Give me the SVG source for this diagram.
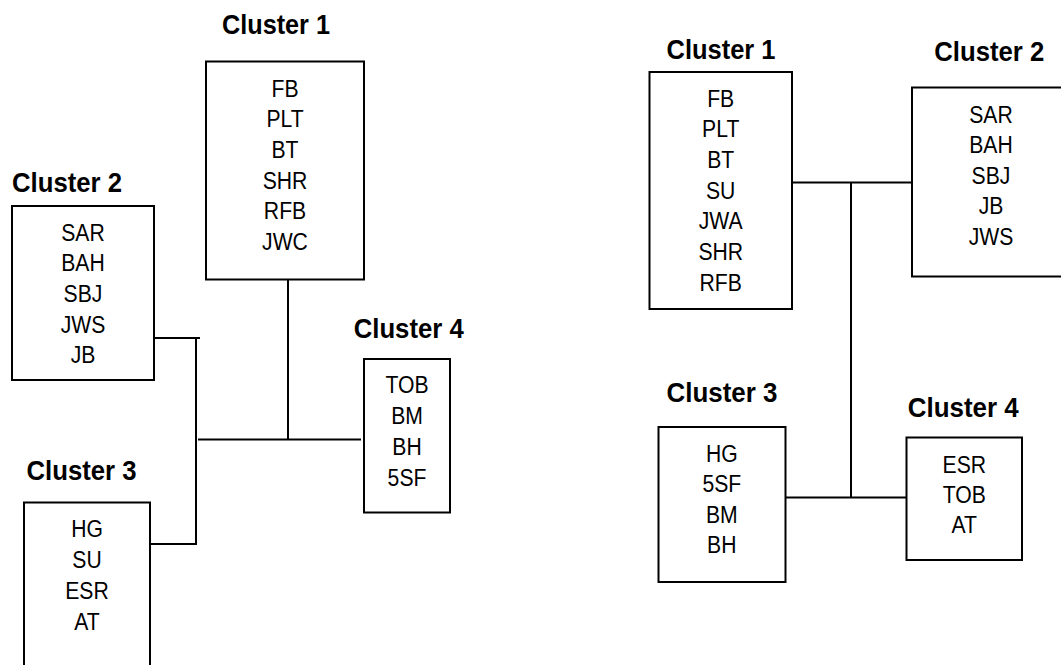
<svg xmlns="http://www.w3.org/2000/svg" width="1061" height="665" viewBox="0 0 1061 665">
  <style>
    .box { fill: #ffffff; stroke: #000000; stroke-width: 2; }
    .wire { fill: none; stroke: #000000; stroke-width: 2; }
    .title { font-family: "Liberation Sans", Arial, sans-serif; font-weight: bold; font-size: 28.5px; text-anchor: middle; fill: #000000; }
    .item { font-family: "Liberation Sans", Arial, sans-serif; font-size: 23.5px; text-anchor: middle; fill: #000000; }
  </style>
  <rect width="1061" height="665" fill="#ffffff"/>

  <!-- connectors -->
  <g id="connectors">
    <!-- left tree -->
    <path class="wire" d="M154 338 H200"/>
    <path class="wire" d="M196 337 V544 H150"/>
    <path class="wire" d="M198 439.5 H361"/>
    <path class="wire" d="M288 279 V439.5"/>
    <!-- right tree -->
    <path class="wire" d="M792 182.5 H912"/>
    <path class="wire" d="M851 182.5 V497.5"/>
    <path class="wire" d="M785 497.5 H906"/>
  </g>

  <!-- left tree nodes -->
  <g id="left-cluster-1">
    <text class="title" x="276" y="34" textLength="108" lengthAdjust="spacingAndGlyphs">Cluster 1</text>
    <rect class="box" x="206" y="61.5" width="158" height="218"/>
    <g class="item" transform="translate(285 0) scale(0.9 1)">
      <text x="0" y="96.7">FB</text>
      <text x="0" y="127.3">PLT</text>
      <text x="0" y="158">BT</text>
      <text x="0" y="188.7">SHR</text>
      <text x="0" y="219.3">RFB</text>
      <text x="0" y="250">JWC</text>
    </g>
  </g>
  <g id="left-cluster-2">
    <text class="title" x="67" y="191.7" textLength="110" lengthAdjust="spacingAndGlyphs">Cluster 2</text>
    <rect class="box" x="12" y="206" width="142" height="174"/>
    <g class="item" transform="translate(83 0) scale(0.9 1)">
      <text x="0" y="240.7">SAR</text>
      <text x="0" y="271.3">BAH</text>
      <text x="0" y="302">SBJ</text>
      <text x="0" y="332.7">JWS</text>
      <text x="0" y="363.3">JB</text>
    </g>
  </g>
  <g id="left-cluster-3">
    <text class="title" x="81.5" y="480" textLength="110" lengthAdjust="spacingAndGlyphs">Cluster 3</text>
    <rect class="box" x="24" y="502.5" width="126" height="180"/>
    <g class="item" transform="translate(87 0) scale(0.9 1)">
      <text x="0" y="537.3">HG</text>
      <text x="0" y="568.3">SU</text>
      <text x="0" y="599.3">ESR</text>
      <text x="0" y="630">AT</text>
    </g>
  </g>
  <g id="left-cluster-4">
    <text class="title" x="408.7" y="338.3" textLength="110" lengthAdjust="spacingAndGlyphs">Cluster 4</text>
    <rect class="box" x="364" y="359" width="86" height="153.5"/>
    <g class="item" transform="translate(407 0) scale(0.9 1)">
      <text x="0" y="393.3">TOB</text>
      <text x="0" y="424">BM</text>
      <text x="0" y="455">BH</text>
      <text x="0" y="486">5SF</text>
    </g>
  </g>

  <!-- right tree nodes -->
  <g id="right-cluster-1">
    <text class="title" x="721" y="59.3" textLength="109" lengthAdjust="spacingAndGlyphs">Cluster 1</text>
    <rect class="box" x="649.5" y="72" width="142.5" height="237"/>
    <g class="item" transform="translate(720.7 0) scale(0.9 1)">
      <text x="0" y="106.7">FB</text>
      <text x="0" y="137.3">PLT</text>
      <text x="0" y="168">BT</text>
      <text x="0" y="198.7">SU</text>
      <text x="0" y="229.3">JWA</text>
      <text x="0" y="260">SHR</text>
      <text x="0" y="290.7">RFB</text>
    </g>
  </g>
  <g id="right-cluster-2">
    <text class="title" x="989.3" y="61" textLength="110" lengthAdjust="spacingAndGlyphs">Cluster 2</text>
    <rect class="box" x="912" y="87.5" width="158" height="189"/>
    <g class="item" transform="translate(991 0) scale(0.9 1)">
      <text x="0" y="122.7">SAR</text>
      <text x="0" y="153.3">BAH</text>
      <text x="0" y="184">SBJ</text>
      <text x="0" y="214.3">JB</text>
      <text x="0" y="245">JWS</text>
    </g>
  </g>
  <g id="right-cluster-3">
    <text class="title" x="722" y="402.3" textLength="111" lengthAdjust="spacingAndGlyphs">Cluster 3</text>
    <rect class="box" x="658.5" y="427" width="127" height="155"/>
    <g class="item" transform="translate(721.8 0) scale(0.9 1)">
      <text x="0" y="461.7">HG</text>
      <text x="0" y="492.3">5SF</text>
      <text x="0" y="523">BM</text>
      <text x="0" y="553.3">BH</text>
    </g>
  </g>
  <g id="right-cluster-4">
    <text class="title" x="963.2" y="417.3" textLength="111" lengthAdjust="spacingAndGlyphs">Cluster 4</text>
    <rect class="box" x="906.5" y="437.5" width="115.5" height="122.5"/>
    <g class="item" transform="translate(964.3 0) scale(0.9 1)">
      <text x="0" y="472.7">ESR</text>
      <text x="0" y="503.3">TOB</text>
      <text x="0" y="533.3">AT</text>
    </g>
  </g>
</svg>
